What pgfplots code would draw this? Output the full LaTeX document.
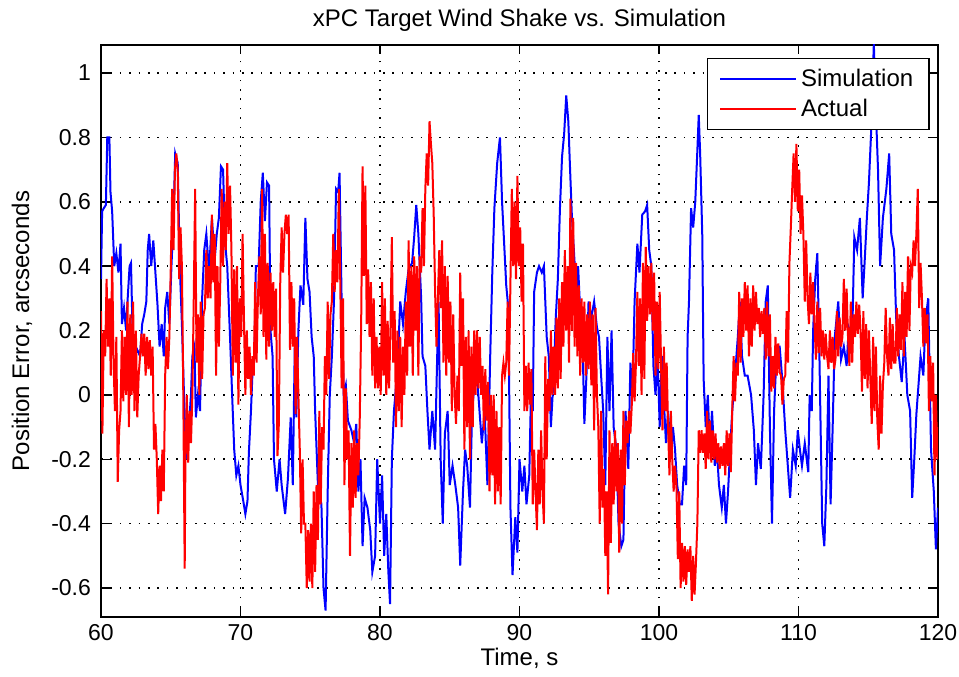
\documentclass[border=0pt]{standalone}
\usepackage{pgfplots}
\pgfplotsset{compat=1.18}
\usepackage{fontspec}
\setmainfont{Liberation Sans}
\usetikzlibrary{calc}
\begin{document}
\begin{tikzpicture}
\begin{axis}[name=ax, scale only axis, width=418.5pt, height=286pt,
 xmin=60, xmax=120, ymin=-0.69, ymax=1.087,
 xtick={60,70,...,120}, ytick={-0.6,-0.4,-0.2,0,0.2,0.4,0.6,0.8,1},
 font=\fontsize{12}{14}\selectfont,
 tick label style={font=\fontsize{11.5}{13}\selectfont},
 /pgf/number format/assume math mode=true,
 yticklabel style={/pgf/number format/fixed, xshift=-1.5pt},
 grid=major, major grid style={black, line width=0.8pt, dash pattern=on 0.8pt off 3.9pt},
 axis line style={black, line width=0.75pt},
 tick style={black, line width=0.75pt}, major tick length=4.5pt,
 title={xPC Target Wind Shake vs. Simulation},
 title style={at={(axis description cs:0.5,1)}, anchor=south, inner sep=0pt, yshift=0.5pt},
 xlabel={Time, s}, xlabel style={at={(axis description cs:0.5,0)}, anchor=base, inner sep=0pt, yshift=-24pt},
 ylabel={Position Error, arcseconds}, ylabel style={at={(axis description cs:-0.0944,0.5)}, anchor=center},
 legend style={at={(axis description cs:0.9904,0.9773)}, anchor=north east, draw=black, line width=0.75pt, fill=white, legend cell align=left, font=\fontsize{12}{14}\selectfont, row sep=1pt, inner xsep=6pt, inner ysep=3pt},
 legend image code/.code={\draw[#1, draw=., line width=0.9pt] (0pt,0pt) -- (38pt,0pt);},
]
\addplot[blue, line width=1pt] coordinates {
(60.00,0.36)(60.08,0.57)(60.2,0.58)(60.35,0.59)(60.45,0.80)(60.6,0.80)(60.68,0.63)(60.8,0.57)(60.95,0.40)(61.1,0.44)(61.25,0.38)(61.4,0.47)(61.5,0.22)(61.65,0.27)(61.8,0.20)(61.9,0.29)(62.05,0.40)(62.15,0.41)(62.25,0.22)(62.4,0.12)(62.6,0.14)(62.8,0.12)(62.95,0.22)(63.1,0.25)(63.25,0.29)(63.35,0.45)(63.45,0.50)(63.6,0.40)(63.75,0.48)(63.9,0.38)(64.05,0.28)(64.2,0.15)(64.35,0.22)(64.5,0.12)(64.6,0.27)(64.75,0.32)(64.9,0.22)(65.05,0.40)(65.2,0.55)(65.32,0.75)(65.5,0.72)(65.65,0.40)(65.8,0.22)(65.95,0.0)(66.1,-0.20)(66.3,-0.10)(66.45,0.0)(66.55,0.12)(66.7,0.15)(66.8,-0.07)(66.95,0.0)(67.1,-0.05)(67.25,0.30)(67.4,0.45)(67.55,0.50)(67.75,0.38)(67.95,0.55)(68.15,0.42)(68.3,0.50)(68.45,0.55)(68.6,0.71)(68.75,0.70)(68.9,0.47)(69.05,0.40)(69.25,0.18)(69.4,0.0)(69.55,-0.17)(69.7,-0.25)(69.85,-0.22)(70.0,-0.28)(70.2,-0.33)
(70.35,-0.37)(70.5,-0.33)(70.6,-0.18)(70.75,-0.05)(70.85,0.06)(71.0,0.12)(71.1,0.40)(71.3,0.40)(71.45,0.60)(71.6,0.69)(71.75,0.54)(71.9,0.66)(72.05,0.65)(72.15,0.20)(72.3,0.12)(72.4,-0.20)(72.6,-0.30)(72.8,-0.20)(72.95,-0.28)(73.2,-0.37)(73.4,-0.26)(73.6,-0.07)(73.75,-0.28)(73.9,0.18)(74.0,-0.07)(74.15,0.20)(74.3,0.34)(74.5,0.28)(74.65,0.55)(74.8,0.36)(74.95,0.32)(75.1,0.18)(75.25,0.12)(75.35,-0.05)(75.55,-0.28)(75.8,-0.34)(75.95,-0.60)(76.1,-0.67)(76.25,-0.30)(76.4,0.0)(76.55,0.12)(76.7,0.29)(76.85,0.64)(77.0,0.63)(77.1,0.69)(77.25,0.29)(77.4,0.0)(77.55,0.03)(77.7,-0.08)(77.95,-0.11)(78.15,-0.15)(78.3,-0.09)(78.45,-0.30)(78.6,-0.20)(78.75,-0.47)(78.9,-0.32)(79.1,-0.35)(79.3,-0.42)(79.45,-0.55)(79.65,-0.50)(79.8,-0.20)(80.0,-0.40)
(80.15,-0.25)(80.3,-0.50)(80.45,-0.37)(80.6,-0.55)(80.72,-0.65)(80.85,-0.20)(81.0,-0.05)(81.1,0.0)(81.3,0.13)(81.45,0.29)(81.65,0.22)(81.85,0.32)(82.05,0.39)(82.3,0.41)(82.45,0.49)(82.6,0.59)(82.75,0.50)(82.95,0.30)(83.05,0.12)(83.25,0.09)(83.4,-0.05)(83.55,-0.17)(83.75,-0.05)(83.95,-0.17)(84.1,0.12)(84.2,0.29)(84.35,-0.20)(84.5,-0.40)(84.65,-0.12)(84.85,-0.05)(85.0,-0.28)(85.2,-0.22)(85.4,-0.28)(85.6,-0.35)(85.75,-0.53)(85.95,-0.30)(86.1,-0.17)(86.25,-0.22)(86.45,-0.35)(86.6,-0.05)(86.75,0.02)(86.95,0.06)(87.1,-0.03)(87.3,-0.15)(87.5,-0.05)(87.7,-0.28)(87.9,0.12)(88.05,0.38)(88.2,0.58)(88.4,0.72)(88.6,0.80)(88.75,0.60)(88.9,0.47)(89.05,0.34)(89.2,0.27)(89.35,-0.35)(89.5,-0.56)(89.7,-0.38)(89.85,-0.49)(90.0,-0.20)
(90.2,-0.30)(90.35,-0.22)(90.5,-0.34)(90.7,-0.25)(90.85,0.06)(90.95,-0.05)(91.05,0.32)(91.25,0.38)(91.4,0.40)(91.6,0.38)(91.75,0.40)(91.95,0.18)(92.1,0.12)(92.25,-0.10)(92.45,0.06)(92.6,0.24)(92.75,0.36)(92.9,0.58)(93.05,0.74)(93.2,0.81)(93.35,0.93)(93.5,0.85)(93.6,0.73)(93.75,0.56)(93.95,0.41)(94.05,0.29)(94.2,0.40)(94.35,0.26)(94.5,0.20)(94.65,-0.09)(94.8,0.06)(94.95,0.29)(95.15,0.24)(95.35,0.29)(95.55,0.21)(95.7,0.18)(95.85,0.06)(96.0,-0.05)(96.15,-0.28)(96.3,0.18)(96.45,-0.05)(96.6,0.20)(96.75,-0.10)(96.95,-0.17)(97.1,-0.40)(97.3,-0.47)(97.45,-0.45)(97.6,-0.05)(97.8,-0.23)(97.95,0.10)(98.1,0.0)(98.25,0.29)(98.45,0.47)(98.6,0.38)(98.8,0.56)(99.0,0.57)(99.15,0.59)(99.3,0.45)(99.45,0.40)(99.6,0.09)(99.75,0.0)(99.9,0.12)(100.05,-0.10)
(100.2,0.12)(100.35,-0.02)(100.5,-0.15)(100.65,-0.05)(100.85,-0.19)(101.0,-0.10)(101.15,-0.17)(101.3,-0.28)(101.5,-0.34)(101.65,-0.34)(101.8,-0.22)(101.95,-0.28)(102.05,0.18)(102.15,0.29)(102.3,0.58)(102.45,0.52)(102.6,0.60)(102.75,0.76)(102.85,0.87)(102.95,0.75)(103.1,0.50)(103.2,0.05)(103.35,-0.10)(103.5,0.0)(103.65,-0.17)(103.8,-0.05)(104.0,-0.22)(104.15,-0.17)(104.3,-0.28)(104.5,-0.35)(104.65,-0.28)(104.8,-0.40)(104.95,-0.30)(105.1,-0.17)(105.25,-0.05)(105.45,0.06)(105.65,0.18)(105.8,0.29)(105.95,0.12)(106.15,0.06)(106.35,0.06)(106.6,0.0)(106.8,-0.11)(106.95,-0.28)(107.1,-0.15)(107.3,-0.23)(107.5,0.0)(107.65,0.29)(107.8,0.34)(107.95,-0.10)(108.1,-0.40)(108.25,-0.05)(108.45,0.15)(108.65,0.15)(108.85,0.04)(109.05,-0.11)(109.2,-0.20)(109.4,-0.32)(109.6,-0.17)(109.8,-0.22)
(109.95,-0.11)(110.1,-0.17)(110.25,-0.22)(110.45,-0.15)(110.7,-0.24)(110.8,0.0)(110.95,-0.05)(111.05,0.20)(111.2,0.36)(111.35,0.44)(111.5,0.12)(111.7,-0.40)(111.85,-0.47)(112.0,-0.28)(112.15,0.06)(112.3,-0.34)(112.45,-0.10)(112.6,0.18)(112.85,0.29)(113.05,0.11)(113.25,0.15)(113.45,0.09)(113.6,0.21)(113.85,0.18)(114.0,0.49)(114.2,0.45)(114.4,0.55)(114.6,0.30)(114.75,0.42)(114.9,0.55)(115.05,0.66)(115.2,0.81)(115.4,1.09)(115.55,0.88)(115.7,0.70)(115.85,0.40)(116.05,0.55)(116.3,0.64)(116.5,0.75)(116.65,0.50)(116.85,0.45)(117.0,0.24)(117.2,0.12)(117.4,0.04)(117.6,0.18)(117.8,0.0)(118.0,-0.05)(118.15,-0.32)(118.3,-0.20)(118.45,-0.06)(118.75,0.12)(118.95,0.06)(119.1,0.23)(119.3,0.30)(119.5,-0.17)(119.7,-0.30)(119.85,-0.48)(120.0,-0.35)
};
\addlegendentry{Simulation}
\addplot[red, line width=1pt] coordinates {
(60.00,0.26)(60.10,-0.12)(60.20,0.20)(60.30,0.12)(60.40,0.36)(60.50,0.15)(60.60,0.30)(60.70,0.06)(60.80,0.43)(60.90,0.10)(61.00,-0.05)(61.10,0.18)(61.20,-0.27)(61.30,-0.11)(61.40,-0.05)(61.50,0.20)(61.60,-0.02)(61.70,0.18)(61.80,0.00)(61.90,0.29)(62.00,-0.10)(62.10,0.25)(62.20,0.00)(62.30,0.29)(62.40,-0.05)(62.50,0.20)(62.60,-0.07)(62.70,0.06)(62.80,0.12)(62.90,0.19)(63.00,0.12)(63.10,0.19)(63.20,0.06)(63.30,0.18)(63.40,0.08)(63.50,0.17)(63.60,0.06)(63.70,0.15)(63.80,-0.17)(63.90,-0.09)(64.00,-0.20)(64.10,-0.37)(64.20,-0.22)(64.30,-0.33)(64.40,-0.17)(64.50,-0.30)(64.60,0.06)(64.70,0.18)(64.80,0.08)(64.90,0.18)(65.00,0.39)(65.10,0.64)(65.20,0.45)(65.30,0.70)(65.40,0.75)(65.50,0.70)(65.60,0.36)(65.70,0.52)(65.80,0.40)(65.90,0.00)(66.00,-0.54)(66.05,-0.20)(66.15,0.00)(66.25,-0.21)(66.35,-0.05)(66.45,-0.15)(66.55,0.00)(66.65,0.30)(66.75,0.64)(66.85,0.10)(66.95,0.25)(67.05,0.00)(67.15,0.29)(67.25,0.05)(67.35,0.25)(67.45,0.27)(67.55,0.45)(67.65,0.30)(67.75,0.40)(67.85,0.30)(67.95,0.56)(68.05,0.35)(68.15,0.50)(68.25,0.06)(68.35,0.40)(68.45,0.15)(68.55,0.35)(68.65,0.64)(68.75,0.40)(68.85,0.60)(68.95,0.45)(69.05,0.72)(69.15,0.50)(69.25,0.65)(69.35,0.45)(69.45,0.06)(69.55,0.39)(69.65,0.10)(69.75,0.40)(69.85,-0.03)(69.95,0.30)
(70.05,0.18)(70.15,0.50)(70.25,0.23)(70.35,0.00)(70.45,0.20)(70.55,0.05)(70.65,0.15)(70.75,0.00)(70.85,0.12)(70.95,0.06)(71.05,0.35)(71.15,0.10)(71.25,0.30)(71.35,0.43)(71.45,0.25)(71.55,0.64)(71.65,0.18)(71.75,0.50)(71.85,0.11)(71.95,0.41)(72.05,0.15)(72.15,0.38)(72.25,0.20)(72.35,0.35)(72.45,0.18)(72.55,0.33)(72.65,-0.19)(72.75,-0.09)(72.85,0.35)(72.95,0.52)(73.05,0.38)(73.15,0.50)(73.25,0.56)(73.35,0.50)(73.45,0.56)(73.55,0.14)(73.65,0.35)(73.75,0.15)(73.85,0.30)(73.95,-0.06)(74.05,0.18)(74.15,0.00)(74.25,-0.17)(74.35,-0.43)(74.45,-0.20)(74.55,-0.40)(74.65,-0.40)(74.75,-0.60)(74.85,-0.42)(74.95,-0.58)(75.05,-0.40)(75.15,-0.60)(75.25,-0.30)(75.35,-0.55)(75.45,-0.28)(75.55,-0.45)(75.65,-0.05)(75.75,-0.34)(75.85,-0.10)(75.95,-0.17)(76.05,0.12)(76.15,0.00)(76.25,0.29)(76.35,0.05)(76.45,0.25)(76.55,0.29)(76.65,0.50)(76.75,0.32)(76.85,0.45)(76.95,0.35)(77.05,0.64)(77.15,0.36)(77.25,0.02)(77.35,0.30)(77.45,-0.28)(77.55,0.02)(77.65,-0.20)(77.75,-0.11)(77.85,-0.50)(77.95,-0.15)(78.05,-0.35)(78.15,-0.11)(78.25,-0.32)(78.35,-0.15)(78.45,-0.25)(78.55,-0.07)(78.65,0.22)(78.75,0.71)(78.85,0.37)(78.95,0.65)(79.05,0.22)(79.15,0.39)(79.25,0.18)(79.35,0.35)(79.45,0.06)(79.55,0.30)(79.65,0.02)(79.75,0.18)(79.85,0.02)(79.95,0.15)
(80.05,0.00)(80.15,0.35)(80.25,0.06)(80.35,0.30)(80.45,0.00)(80.55,0.23)(80.65,0.02)(80.75,0.20)(80.85,0.49)(80.95,0.10)(81.05,0.26)(81.15,-0.10)(81.25,0.20)(81.35,-0.05)(81.45,0.18)(81.55,-0.10)(81.65,0.15)(81.75,0.00)(81.85,0.29)(81.95,0.06)(82.05,0.48)(82.15,0.15)(82.25,0.40)(82.35,0.06)(82.45,0.43)(82.55,0.20)(82.65,0.40)(82.75,0.06)(82.85,0.43)(82.95,0.38)(83.05,0.58)(83.15,0.40)(83.25,0.64)(83.35,0.75)(83.45,0.65)(83.55,0.85)(83.65,0.78)(83.75,0.72)(83.85,0.56)(83.95,0.32)(84.05,0.15)(84.15,0.30)(84.25,0.45)(84.35,0.27)(84.45,0.48)(84.55,0.10)(84.65,0.40)(84.75,0.06)(84.85,0.37)(84.95,0.10)(85.05,0.29)(85.15,-0.05)(85.25,0.25)(85.35,0.00)(85.45,-0.09)(85.55,0.06)(85.65,-0.05)(85.75,0.38)(85.85,0.09)(85.95,0.30)(86.05,-0.17)(86.15,0.18)(86.25,-0.10)(86.35,0.20)(86.45,-0.20)(86.55,0.15)(86.65,-0.10)(86.75,0.20)(86.85,0.00)(86.95,0.20)(87.05,0.02)(87.15,0.18)(87.25,0.00)(87.35,0.09)(87.45,-0.11)(87.55,0.08)(87.65,-0.08)(87.75,0.04)(87.85,-0.30)(87.95,0.00)(88.05,-0.25)(88.15,0.00)(88.25,-0.34)(88.35,-0.05)(88.45,-0.30)(88.55,-0.10)(88.65,-0.34)(88.75,0.06)(88.85,0.10)(88.95,0.06)(89.05,0.10)(89.15,0.29)(89.25,0.06)(89.35,0.35)(89.45,0.64)(89.55,0.40)(89.65,0.60)(89.75,0.36)(89.85,0.68)(89.95,0.40)
(90.05,0.52)(90.15,0.29)(90.25,0.47)(90.35,-0.05)(90.45,0.09)(90.55,-0.05)(90.65,0.10)(90.75,-0.03)(90.85,0.08)(90.95,-0.34)(91.05,-0.17)(91.15,-0.30)(91.25,-0.42)(91.35,-0.17)(91.45,-0.34)(91.55,-0.11)(91.65,-0.30)(91.75,-0.40)(91.85,0.12)(91.95,-0.20)(92.05,0.05)(92.15,-0.05)(92.25,0.20)(92.35,0.00)(92.45,0.15)(92.55,0.00)(92.65,0.24)(92.75,0.02)(92.85,0.30)(92.95,0.05)(93.05,0.35)(93.15,0.15)(93.25,0.45)(93.35,0.20)(93.45,0.40)(93.55,0.10)(93.65,0.61)(93.75,0.20)(93.85,0.55)(93.95,0.15)(94.05,0.41)(94.15,0.12)(94.25,0.34)(94.35,0.06)(94.45,0.30)(94.55,0.10)(94.65,0.29)(94.75,0.06)(94.85,0.25)(94.95,0.08)(95.05,0.29)(95.15,0.03)(95.25,0.25)(95.35,-0.11)(95.45,0.27)(95.55,0.00)(95.65,-0.10)(95.75,-0.40)(95.85,-0.05)(95.95,-0.35)(96.05,-0.23)(96.15,-0.50)(96.25,-0.30)(96.35,-0.62)(96.45,-0.11)(96.55,-0.46)(96.65,-0.15)(96.75,-0.34)(96.85,-0.11)(96.95,-0.30)(97.05,-0.15)(97.15,-0.49)(97.25,-0.17)(97.35,-0.40)(97.45,-0.05)(97.55,-0.28)(97.65,-0.08)(97.75,-0.15)(97.85,-0.05)(97.95,-0.12)(98.05,-0.03)(98.15,0.13)(98.25,-0.02)(98.35,0.10)(98.45,0.32)(98.55,0.09)(98.65,0.30)(98.75,0.00)(98.85,0.41)(98.95,0.05)(99.05,0.46)(99.15,0.23)(99.25,0.40)(99.35,0.25)(99.45,0.41)(99.55,0.20)(99.65,0.38)(99.75,0.06)(99.85,0.29)(99.95,0.08)
(100.05,0.32)(100.15,0.09)(100.25,-0.11)(100.35,0.15)(100.45,-0.05)(100.55,0.10)(100.65,-0.10)(100.75,-0.25)(100.85,-0.05)(100.95,-0.20)(101.05,-0.30)(101.15,-0.22)(101.25,-0.28)(101.35,-0.51)(101.45,-0.30)(101.55,-0.60)(101.65,-0.46)(101.75,-0.58)(101.85,-0.47)(101.95,-0.59)(102.05,-0.48)(102.15,-0.55)(102.25,-0.47)(102.35,-0.64)(102.45,-0.50)(102.55,-0.62)(102.65,-0.52)(102.75,-0.40)(102.85,-0.11)(102.95,-0.18)(103.05,-0.11)(103.15,-0.18)(103.25,-0.12)(103.35,-0.23)(103.45,-0.05)(103.55,-0.20)(103.65,-0.08)(103.75,-0.21)(103.85,-0.11)(103.95,-0.20)(104.05,-0.12)(104.15,-0.21)(104.25,-0.15)(104.35,-0.23)(104.45,-0.16)(104.55,-0.22)(104.65,-0.15)(104.75,-0.25)(104.85,-0.11)(104.95,-0.22)(105.05,-0.12)(105.15,-0.24)(105.25,-0.05)(105.35,0.12)(105.45,-0.02)(105.55,0.10)(105.65,0.06)(105.75,0.32)(105.85,0.10)(105.95,0.30)(106.05,0.18)(106.15,0.35)(106.25,0.20)(106.35,0.34)(106.45,0.12)(106.55,0.30)(106.65,0.15)(106.75,0.34)(106.85,0.20)(106.95,0.32)(107.05,0.22)(107.15,0.27)(107.25,0.18)(107.35,0.26)(107.45,0.19)(107.55,0.27)(107.65,0.11)(107.75,0.29)(107.85,0.12)(107.95,0.25)(108.05,0.01)(108.15,0.12)(108.25,0.02)(108.35,0.18)(108.45,0.06)(108.55,0.16)(108.65,0.07)(108.75,0.06)(108.85,-0.03)(108.95,0.05)(109.05,0.06)(109.15,0.26)(109.25,0.10)(109.35,0.41)(109.45,0.52)(109.55,0.64)(109.65,0.75)(109.75,0.60)(109.85,0.78)(109.95,0.57)
(110.05,0.70)(110.15,0.50)(110.25,0.62)(110.35,0.50)(110.45,0.29)(110.55,0.48)(110.65,0.30)(110.75,0.22)(110.85,0.38)(110.95,0.25)(111.05,0.35)(111.15,0.22)(111.25,0.11)(111.35,0.29)(111.45,0.13)(111.55,0.27)(111.65,0.12)(111.75,0.20)(111.85,0.11)(111.95,0.19)(112.05,0.12)(112.15,0.08)(112.25,0.20)(112.35,0.10)(112.45,0.18)(112.55,0.08)(112.65,0.11)(112.75,0.26)(112.85,0.12)(112.95,0.24)(113.05,0.15)(113.15,0.18)(113.25,0.36)(113.35,0.20)(113.45,0.33)(113.55,0.18)(113.65,0.09)(113.75,0.29)(113.85,0.10)(113.95,0.25)(114.05,0.18)(114.15,0.29)(114.25,0.19)(114.35,0.28)(114.45,0.20)(114.55,0.01)(114.65,0.26)(114.75,0.05)(114.85,0.22)(114.95,0.02)(115.05,0.20)(115.15,0.05)(115.25,-0.09)(115.35,0.18)(115.45,-0.05)(115.55,0.15)(115.65,-0.08)(115.75,-0.17)(115.85,0.06)(115.95,-0.12)(116.05,0.03)(116.15,0.10)(116.25,0.27)(116.35,0.12)(116.45,0.06)(116.55,0.24)(116.65,0.08)(116.75,0.22)(116.85,0.10)(116.95,0.10)(117.05,0.27)(117.15,0.12)(117.25,0.25)(117.35,0.14)(117.45,0.35)(117.55,0.12)(117.65,0.32)(117.75,0.18)(117.85,0.43)(117.95,0.20)(118.05,0.40)(118.15,0.38)(118.25,0.48)(118.35,0.40)(118.45,0.50)(118.55,0.64)(118.65,0.27)(118.75,0.41)(118.85,0.30)(118.95,0.15)(119.05,0.27)(119.15,0.16)(119.25,0.25)(119.35,-0.05)(119.45,0.12)(119.55,-0.02)(119.65,0.10)(119.75,-0.25)(119.85,0.00)(119.95,-0.20)(120.00,-0.10)
};
\addlegendentry{Actual}
\end{axis}
\pgfresetboundingbox
\useasboundingbox ($(ax.south west)+(-50.5pt,-29.5pt)$) rectangle ($(ax.north east)+(10.5pt,22.5pt)$);
\end{tikzpicture}
\end{document}
